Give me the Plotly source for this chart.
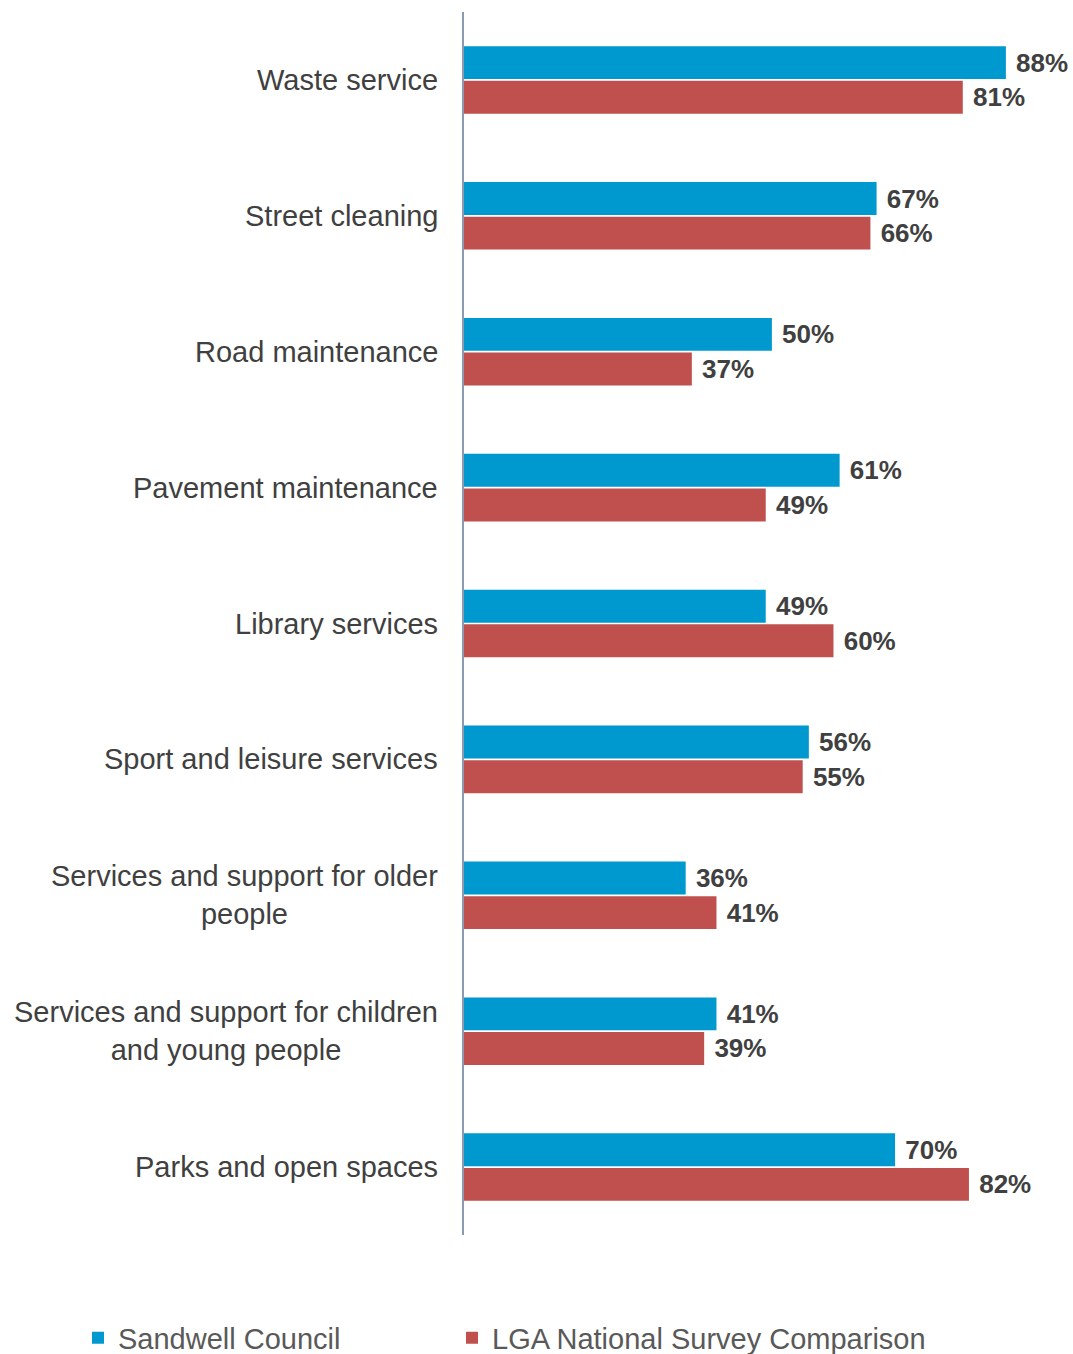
import plotly.graph_objects as go

categories = [
    "Waste service",
    "Street cleaning",
    "Road maintenance",
    "Pavement maintenance",
    "Library services",
    "Sport and leisure services",
    "Services and support for older<br>people",
    "Services and support for children<br>and young people",
    "Parks and open spaces",
]
sandwell = [88, 67, 50, 61, 49, 56, 36, 41, 70]
lga = [81, 66, 37, 49, 60, 55, 41, 39, 82]

series_names = ["Sandwell Council", "LGA National Survey Comparison"]
colors = ["#0099CF", "#C0504D"]
legend_ids = ["legend", "legend2"]

FONT = "Liberation Sans, Arial, sans-serif"
value_font = dict(family=FONT, size=26, color="#404040")

fig = go.Figure()
for name, vals, col, lg in zip(series_names, [sandwell, lga], colors, legend_ids):
    fig.add_trace(go.Bar(
        y=categories,
        x=vals,
        name=name,
        orientation="h",
        marker=dict(color=col, line=dict(width=0)),
        text=[f"\u00a0<b>{v}%</b>" for v in vals],
        textposition="outside",
        textfont=value_font,
        cliponaxis=False,
        legend=lg,
    ))

# category labels drawn as annotations so wrapped lines stay centred
for cat in categories:
    fig.add_annotation(
        x=0, xref="paper", y=cat, yref="y",
        text=cat, showarrow=False,
        xanchor="right", xshift=-24, align="center",
        font=dict(family=FONT, size=29, color="#404040"),
    )

legend_style = dict(
    orientation="h",
    xref="container", yref="container",
    y=0.0118, xanchor="left", yanchor="middle",
    font=dict(family=FONT, size=29, color="#595959"),
    bgcolor="rgba(0,0,0,0)",
)

fig.update_layout(
    width=1073,
    height=1354,
    margin=dict(l=464, r=24, t=12, b=119),
    paper_bgcolor="white",
    plot_bgcolor="white",
    barmode="group",
    bargap=0.49,
    bargroupgap=0.05,
    showlegend=True,
    legend=dict(x=78 / 1073, **legend_style),
    legend2=dict(x=452 / 1073, **legend_style),
    xaxis=dict(
        range=[0, 95],
        showgrid=False, zeroline=False, showticklabels=False, showline=False,
    ),
    yaxis=dict(
        autorange="reversed",
        showgrid=False, zeroline=False, showticklabels=False,
        showline=True, linecolor="#8A9BB0", linewidth=2,
    ),
)

fig.write_html("out.html")
